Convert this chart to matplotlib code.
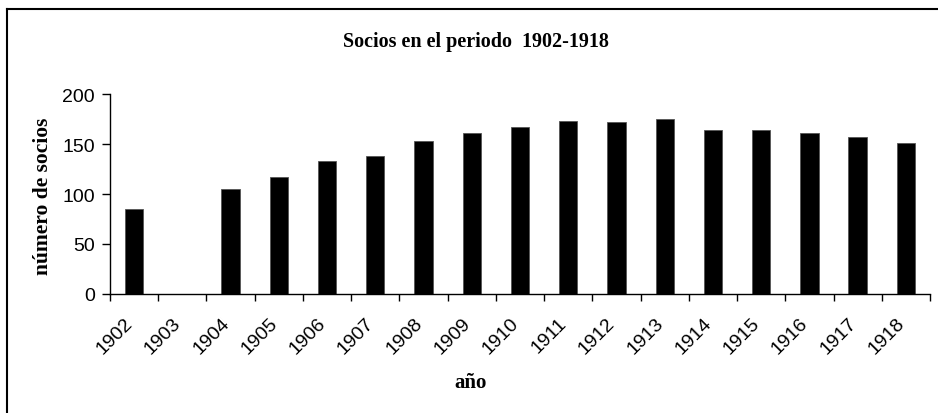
import matplotlib
matplotlib.use("Agg")
import matplotlib.pyplot as plt
from matplotlib.lines import Line2D
import matplotlib.transforms as mtransforms
import numpy as np

years = ["1902", "1903", "1904", "1905", "1906", "1907", "1908", "1909", "1910",
         "1911", "1912", "1913", "1914", "1915", "1916", "1917", "1918"]
socios = [85, 0, 105, 117, 133, 138, 153, 161, 167, 173, 172, 175, 164, 164, 161, 157, 151]
yticks = [0, 50, 100, 150, 200]

W, H = 938, 414
fig = plt.figure(figsize=(W / 100, H / 100), dpi=100)
ax = fig.add_axes([110 / W, (H - 295) / H, 820 / W, 200 / H])

x = np.arange(len(years))
ax.bar(x, socios, width=0.38, color="black", edgecolor="#555555", linewidth=0.6)

ax.set_xlim(-0.5, len(years) - 0.5)
ax.set_ylim(0, 200)
ax.set_yticks(yticks)
ax.set_yticklabels([str(v) for v in yticks], fontfamily="Liberation Sans", fontsize=14)
ax.set_xticks(x)
ax.set_xticklabels(years, rotation=45, ha="right", va="center", rotation_mode="anchor",
                   fontfamily="Liberation Sans", fontsize=14)
ax.tick_params(axis="x", which="major", length=0, pad=19)
shift = mtransforms.ScaledTranslation(-4 / 100, 0, fig.dpi_scale_trans)
for lbl in ax.get_xticklabels():
    lbl.set_transform(lbl.get_transform() + shift)
ax.set_xticks(np.arange(-0.5, len(years)), minor=True)
ax.tick_params(axis="x", which="minor", length=5, width=1, direction="out")
ax.tick_params(axis="y", length=6, width=1, direction="out", pad=5)

for s in ["top", "right"]:
    ax.spines[s].set_visible(False)
for s in ["left", "bottom"]:
    ax.spines[s].set_linewidth(1)

fig.text(43 / W, 1 - 196 / H, "número de socios", rotation=90, ha="center", va="center",
         fontfamily="Liberation Serif", fontweight="bold", fontsize=15.5)
fig.text(476 / W, 1 - 42 / H, "Socios en el periodo  1902-1918", ha="center", va="center",
         fontfamily="Liberation Serif", fontweight="bold", fontsize=14.5)
fig.text(471 / W, 1 - 383 / H, "año", ha="center", va="center",
         fontfamily="Liberation Serif", fontweight="bold", fontsize=15)

# outer chart border (left and top visible)
fig.add_artist(Line2D([7 / W, 7 / W], [0, 1 - 10 / H], transform=fig.transFigure,
                      color="black", linewidth=1.5))
fig.add_artist(Line2D([7 / W, 1], [1 - 10 / H, 1 - 10 / H], transform=fig.transFigure,
                      color="black", linewidth=1.5))

fig.savefig("out.png", dpi=100, facecolor="white")
